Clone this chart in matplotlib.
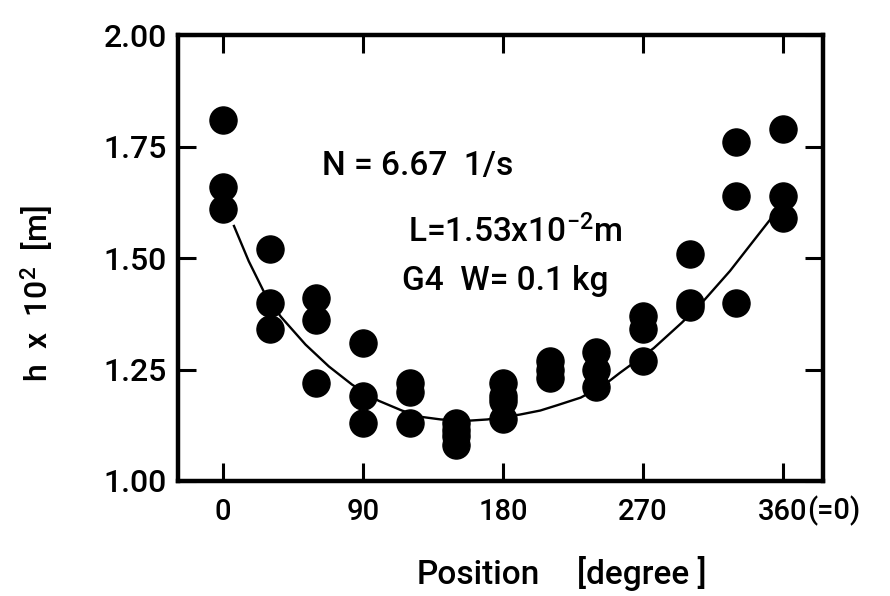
import numpy as np
import matplotlib
matplotlib.use("Agg")
import matplotlib.pyplot as plt

plt.rcParams['font.family'] = ['Roboto', 'DejaVu Sans']
plt.rcParams['font.weight'] = 'medium'
plt.rcParams['mathtext.fontset'] = 'custom'
plt.rcParams['mathtext.rm'] = 'Roboto:medium'
plt.rcParams['mathtext.it'] = 'Roboto:italic'

# measured points: position [deg] -> h x 10^2 [m]
angles = [0, 30, 60, 90, 120, 150, 180, 210, 240, 270, 300, 330, 360]
h_values = [
    [1.81, 1.66, 1.61],
    [1.52, 1.40, 1.34],
    [1.41, 1.36, 1.22],
    [1.31, 1.19, 1.13],
    [1.22, 1.20, 1.13],
    [1.13, 1.115, 1.10, 1.08],
    [1.22, 1.19, 1.18, 1.14],
    [1.27, 1.25, 1.23],
    [1.29, 1.25, 1.21],
    [1.37, 1.34, 1.27],
    [1.51, 1.40, 1.39],
    [1.76, 1.64, 1.40],
    [1.79, 1.64, 1.59],
]

# fitted curve
curve_x = [7, 16.5, 26, 37, 53, 68, 83, 100, 115, 127, 140, 157, 170, 191,
           204, 215, 230, 245, 255, 277, 295, 307, 326, 341, 352]
curve_y = [1.572, 1.493, 1.426, 1.369, 1.306, 1.257, 1.216, 1.180, 1.158,
           1.144, 1.138, 1.135, 1.138, 1.149, 1.158, 1.170, 1.187, 1.215,
           1.242, 1.298, 1.355, 1.396, 1.471, 1.538, 1.587]

x_ticks = [0, 90, 180, 270, 360]
x_ticklabels = ['0', '90', '180', '270', '360']
y_ticks = [1.00, 1.25, 1.50, 1.75, 2.00]
y_ticklabels = ['1.00', '1.25', '1.50', '1.75', '2.00']

px = [a for a, hs in zip(angles, h_values) for _ in hs]
py = [h for hs in h_values for h in hs]

fig = plt.figure(figsize=(8.9, 5.96), dpi=100)
ax = fig.add_axes([0.2, 0.193, 0.725, 0.748])

ax.plot(curve_x, curve_y, color='black', lw=1.7, zorder=2)
ax.plot(px, py, 'o', color='black', ms=19.5, zorder=3)

ax.set_xlim(-29, 386)
ax.set_ylim(1.0, 2.0)
ax.set_xticks(x_ticks)
ax.set_xticklabels(x_ticklabels)
ax.set_yticks(y_ticks)
ax.set_yticklabels(y_ticklabels)

ax.tick_params(direction='in', length=13, width=2.2, top=True, right=True)
ax.tick_params(axis='x', labelsize=21, pad=12)
ax.tick_params(axis='y', labelsize=23, pad=8)
for s in ax.spines.values():
    s.set_linewidth(3.2)

# "(=0)" right after the 360 tick label
fig.canvas.draw()
bb = ax.get_xticklabels()[-1].get_window_extent()
fig.text(bb.x1 / fig.bbox.width, bb.y0 / fig.bbox.height, '(=0)',
         fontsize=21, ha='left', va='bottom')

ax.text(63.5, 1.687, 'N = 6.67  1/s', fontsize=24, va='baseline')
ax.text(119, 1.536, r'L=1.53x10$^{\mathrm{-2}}$m', fontsize=24, va='baseline')
ax.text(115, 1.428, 'G4  W= 0.1 kg', fontsize=24, va='baseline')

fig.text(417 / 890, 1 - 584 / 596, 'Position', fontsize=24,
         ha='left', va='baseline')
fig.text(577 / 890, 1 - 584 / 596, '[degree ]', fontsize=24,
         ha='left', va='baseline')
fig.text(37 / 890, 1 - 293 / 596, r'h  x  10$^{\mathrm{2}}$  [m]', fontsize=23,
         rotation=90, ha='center', va='center')

fig.savefig('out.png', dpi=100)
